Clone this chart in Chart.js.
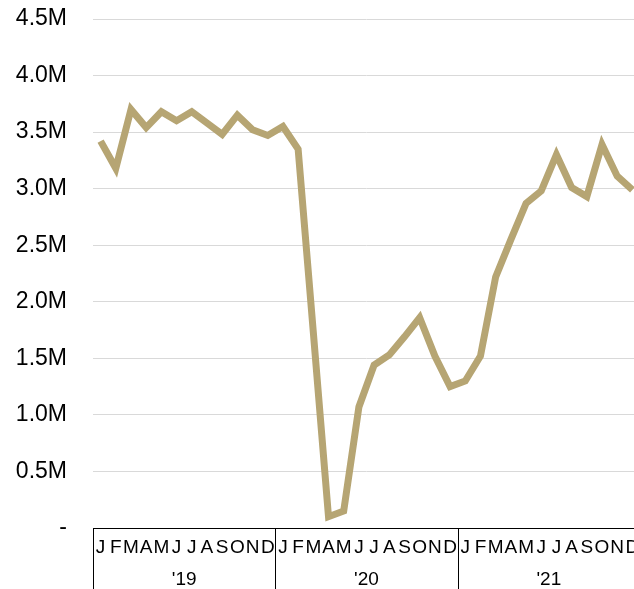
<!DOCTYPE html>
<html>
<head>
<meta charset="utf-8">
<script src="https://cdn.jsdelivr.net/npm/chart.js@4"></script>
<style>
  html, body { margin: 0; padding: 0; background: #fff; overflow: hidden; }
  #wrap { width: 640px; height: 589px; position: relative; }
</style>
</head>
<body>
<div id="wrap"><canvas id="lineChart"></canvas></div>
<script>
// Meses y años del eje X
const monthLetters = ['J', 'F', 'M', 'A', 'M', 'J', 'J', 'A', 'S', 'O', 'N', 'D'];
const years = ["'19", "'20", "'21"];

// Valores mensuales (millones)
const values2019 = [3.42, 3.18, 3.70, 3.54, 3.68, 3.60, 3.68, 3.58, 3.48, 3.65, 3.52, 3.47];
const values2020 = [3.55, 3.35, 1.73, 0.10, 0.15, 1.07, 1.44, 1.53, 1.69, 1.86, 1.52, 1.25];
const values2021 = [1.30, 1.52, 2.22, 2.55, 2.87, 2.98, 3.30, 3.01, 2.93, 3.39, 3.11, 2.99];

// Ticks del eje Y
const yTicks = [0, 0.5, 1.0, 1.5, 2.0, 2.5, 3.0, 3.5, 4.0, 4.5];

const labels = [];
years.forEach(() => monthLetters.forEach(m => labels.push(m)));
const values = values2019.concat(values2020, values2021);

// Líneas divisorias entre años, debajo del eje
const yearDividers = {
    id: 'yearDividers',
    afterDraw(chart) {
        const x = chart.scales.x;
        const ctx = chart.ctx;
        const half = (x.getPixelForValue(1) - x.getPixelForValue(0)) / 2;
        ctx.save();
        ctx.strokeStyle = '#000';
        ctx.lineWidth = 1;
        for (let i = 0; i <= labels.length; i += monthLetters.length) {
            const px = Math.round(x.getPixelForValue(i) - half) + 0.5;
            ctx.beginPath();
            ctx.moveTo(px, chart.chartArea.bottom);
            ctx.lineTo(px, chart.height);
            ctx.stroke();
        }
        ctx.restore();
    }
};

const labelFont = { family: "'Liberation Sans Narrow', 'Liberation Sans', Arial, sans-serif", size: 19 };

const ctx = document.getElementById('lineChart').getContext('2d');
new Chart(ctx, {
    type: 'line',
    data: {
        labels: labels,
        datasets: [{
            data: values,
            borderColor: '#B6A573',
            borderWidth: 7,
            borderJoinStyle: 'miter',
            pointRadius: 0,
            tension: 0,
            fill: false
        }]
    },
    options: {
        responsive: true,
        maintainAspectRatio: false,
        animation: false,
        layout: { padding: { top: 19, left: 0, right: 0, bottom: 0 } },
        plugins: {
            legend: { display: false },
            tooltip: { enabled: false }
        },
        scales: {
            x: {
                type: 'category',
                offset: true,
                border: { display: true, color: '#000', width: 1 },
                grid: { display: false },
                ticks: {
                    autoSkip: false,
                    maxRotation: 0,
                    padding: 0,
                    color: '#000',
                    font: labelFont
                },
                afterFit(scale) {
                    scale.height = 26;
                    scale.paddingLeft = 0;
                    scale.paddingRight = 0;
                }
            },
            years: {
                type: 'category',
                position: 'bottom',
                labels: years,
                offset: true,
                border: { display: false },
                grid: { display: false },
                ticks: {
                    maxRotation: 0,
                    padding: 6,
                    color: '#000',
                    font: labelFont
                },
                afterFit(scale) {
                    scale.height = 35;
                    scale.paddingLeft = 0;
                    scale.paddingRight = 0;
                }
            },
            y: {
                min: 0,
                max: 4.5,
                border: { display: false },
                grid: { color: '#d9d9d9', lineWidth: 1, drawTicks: false },
                afterBuildTicks(scale) {
                    scale.ticks = yTicks.map(v => ({ value: v }));
                },
                ticks: {
                    padding: 26,
                    color: '#000',
                    font: { family: "'Liberation Sans', Arial, sans-serif", size: 23 },
                    callback: v => v === 0 ? '-' : v.toFixed(1) + 'M'
                },
                afterFit(scale) {
                    scale.width = 93;
                    scale.paddingTop = 0;
                    scale.paddingBottom = 0;
                }
            }
        }
    },
    plugins: [yearDividers]
});
</script>
</body>
</html>
